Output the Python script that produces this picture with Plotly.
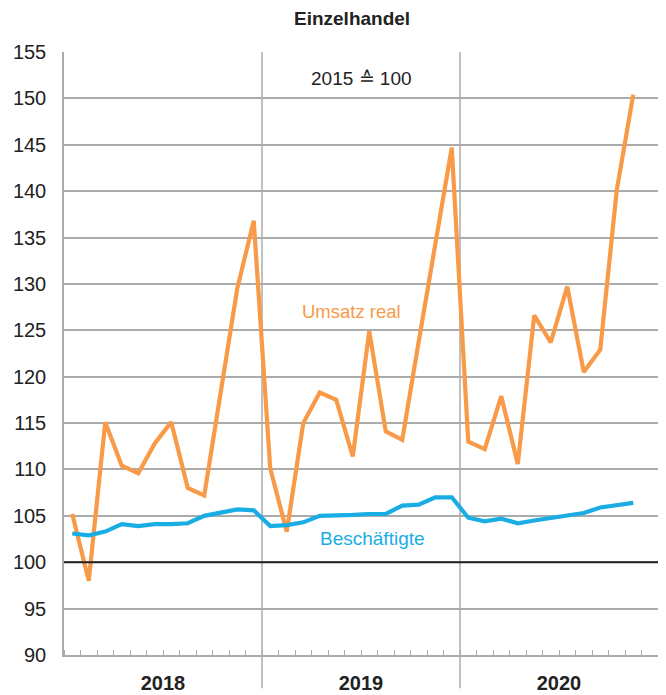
import plotly.graph_objects as go

years = ["2018", "2019", "2020"]
months_per_year = 12
umsatz_real = [105.2, 98.0, 115.1, 110.4, 109.6, 112.8, 115.1, 108.0, 107.2, 118.5, 129.5, 136.8,
               110.1, 103.3, 115.0, 118.3, 117.5, 111.4, 124.9, 114.1, 113.2, 123.8, 134.1, 144.7,
               113.0, 112.2, 117.9, 110.6, 126.6, 123.7, 129.7, 120.5, 122.9, 140.1, 150.4]
beschaeftigte = [103.1, 102.9, 103.3, 104.1, 103.9, 104.1, 104.1, 104.2, 105.0, 105.4, 105.7, 105.6,
                 103.9, 104.0, 104.3, 105.0, 105.0, 105.1, 105.2, 105.2, 106.1, 106.2, 107.0, 107.0,
                 104.8, 104.4, 104.7, 104.2, 104.5, 104.8, 105.0, 105.3, 105.9, 106.1, 106.4]
y_ticks = list(range(90, 156, 5))
baseline = 100

FONT = "Liberation Sans, Arial, sans-serif"
ORANGE = "#F89A48"
BLUE = "#1AADE3"
GRID = "#ABABAB"

n_months = months_per_year * len(years)
x_vals = [i + 0.5 for i in range(len(umsatz_real))]

fig = go.Figure()
fig.add_trace(go.Scatter(x=x_vals, y=umsatz_real, mode="lines", name="Umsatz real",
                         line=dict(color=ORANGE, width=4.2), hoverinfo="skip"))
fig.add_trace(go.Scatter(x=x_vals, y=beschaeftigte, mode="lines", name="Beschäftigte",
                         line=dict(color=BLUE, width=4.2), hoverinfo="skip"))

# baseline
fig.add_shape(type="line", xref="x", yref="y", x0=0, x1=n_months, y0=baseline, y1=baseline,
              line=dict(color="#222222", width=2), layer="above")
# year separators (extend below the axis)
for k in range(1, len(years)):
    fig.add_shape(type="line", xref="x", yref="paper", x0=k * months_per_year, x1=k * months_per_year,
                  y0=-0.055, y1=1, line=dict(color=GRID, width=1.5), layer="below")

fig.update_layout(
    width=658, height=687,
    margin=dict(l=56, r=8, t=44, b=40),
    paper_bgcolor="white", plot_bgcolor="white",
    showlegend=False,
    font=dict(family=FONT, color="#222222"),
    xaxis=dict(range=[0, n_months], showgrid=False, zeroline=False, automargin=False,
               tickmode="array", tickvals=[months_per_year * (k + 0.5) for k in range(len(years))],
               ticktext=[f"<b>{y}</b>" for y in years], ticks="",
               tickfont=dict(size=20, color="#222222"), ticklabelstandoff=9,
               showline=True, linecolor=GRID, linewidth=1.5,
               minor=dict(tickmode="linear", tick0=0, dtick=1, ticks="inside", ticklen=5,
                          tickcolor=GRID, tickwidth=1.2, showgrid=False)),
    yaxis=dict(range=[90, 155], tickmode="array", tickvals=y_ticks, showgrid=True,
               gridcolor=GRID, gridwidth=1.5, zeroline=False, ticks="", automargin=False,
               tickfont=dict(size=20, color="#222222"), ticklabelstandoff=12,
               showline=True, linecolor=GRID, linewidth=1.5),
)

fig.add_annotation(text="<b>Einzelhandel</b>", x=(352 - 64) / (658 - 64), xanchor="center",
                   y=1.0, yanchor="bottom", yshift=21, xref="paper", yref="paper",
                   showarrow=False, font=dict(size=19, color="#222222", family=FONT))
fig.add_annotation(text="2015 ≙ 100", x=18.0, y=152.1, xref="x", yref="y", showarrow=False,
                   font=dict(size=19, color="#222222", family=FONT))
fig.add_annotation(text="Umsatz real", x=17.4, y=127.0, xref="x", yref="y", showarrow=False,
                   font=dict(size=18.5, color=ORANGE, family=FONT))
fig.add_annotation(text="Beschäftigte", x=18.7, y=102.6, xref="x", yref="y", showarrow=False,
                   font=dict(size=19, color=BLUE, family=FONT))

fig.write_html("out.html")
